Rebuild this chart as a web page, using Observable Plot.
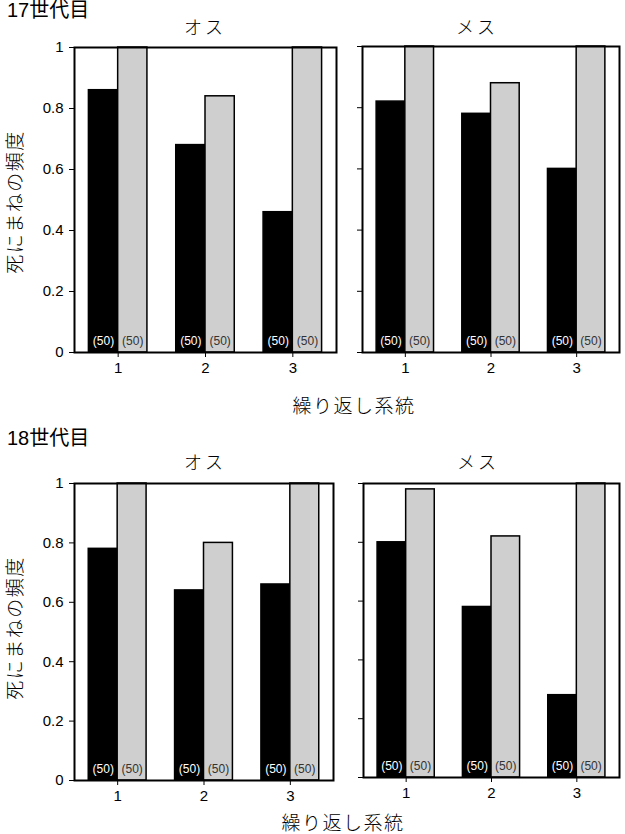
<!DOCTYPE html>
<html>
<head>
<meta charset="utf-8">
<script src="https://cdn.jsdelivr.net/npm/d3@7"></script>
<script src="https://cdn.jsdelivr.net/npm/@observablehq/plot@0.6"></script>
<style>
  html, body { margin: 0; padding: 0; background: #fff; }
  #root { position: relative; width: 625px; height: 834px; overflow: hidden; background: #fff; }
  .overlay { position: absolute; left: 0; top: 0; pointer-events: none; }
</style>
</head>
<body>
<div id="root"></div>
<script>
// ---- data ----
const replicates = [1, 2, 3];
const sampleSizes = [50, 50, 50];
const yTicks = [0, 0.2, 0.4, 0.6, 0.8, 1];

const gen17MaleBlack   = [0.86, 0.68, 0.46];
const gen17MaleGray    = [1.00, 0.84, 1.00];
const gen17FemaleBlack = [0.82, 0.78, 0.60];
const gen17FemaleGray  = [1.00, 0.88, 1.00];
const gen18MaleBlack   = [0.78, 0.64, 0.66];
const gen18MaleGray    = [1.00, 0.80, 1.00];
const gen18FemaleBlack = [0.80, 0.58, 0.28];
const gen18FemaleGray  = [0.98, 0.82, 1.00];

const genTitles = ["17世代目", "18世代目"];
const sexTitles = ["オス", "メス"];
const yLabel = "死にまねの頻度";
const xLabel = "繰り返し系統";

// ---- style ----
const GRAY = "#cfcfcf";
const HALF = 0.335; // bar width as fraction of a replicate step
const root = document.getElementById("root");

function rows(values) {
  return replicates.map((r, i) => ({rep: r, value: values[i], n: sampleSizes[i]}));
}

function panel({black, gray, L, R, T, B, showY}) {
  const ml = showY ? 74 : 20, mr = 6, mt = 10, mb = 34;
  const blackRows = rows(black), grayRows = rows(gray);
  const chart = Plot.plot({
    width: (R - L) + ml + mr,
    height: (B - T) + mt + mb,
    marginLeft: ml, marginRight: mr, marginTop: mt, marginBottom: mb,
    style: {fontFamily: "'Liberation Sans', Arial, sans-serif", fontSize: "15px", color: "black", background: "white"},
    x: {domain: [0.5, 3.5], ticks: replicates, tickFormat: d => String(d), tickSize: 5, tickPadding: 5, label: null},
    y: {domain: [0, 1], ticks: yTicks, tickFormat: showY ? (d => String(d)) : () => "", tickSize: 5, tickPadding: 6, label: null},
    marks: [
      Plot.rectY(blackRows, {x1: d => d.rep - HALF, x2: "rep", y1: 0, y2: "value", fill: "black", stroke: "black", strokeWidth: 1.5}),
      Plot.rectY(grayRows, {x1: "rep", x2: d => d.rep + HALF, y1: 0, y2: "value", fill: GRAY, stroke: "black", strokeWidth: 1.5}),
      Plot.text(blackRows, {x: d => d.rep - HALF / 2, y: 0, text: d => `(${d.n})`, dy: -11, fill: "white", fontSize: 12}),
      Plot.text(grayRows, {x: d => d.rep + HALF / 2, y: 0, text: d => `(${d.n})`, dy: -11, fill: "#333", fontSize: 12}),
      Plot.frame({stroke: "black", strokeWidth: 2})
    ]
  });
  chart.style.position = "absolute";
  chart.style.left = (L - ml) + "px";
  chart.style.top = (T - mt) + "px";
  root.appendChild(chart);
}

panel({black: gen17MaleBlack,   gray: gen17MaleGray,   L: 74,  R: 336, T: 47,  B: 352, showY: true});
panel({black: gen17FemaleBlack, gray: gen17FemaleGray, L: 362, R: 619, T: 46,  B: 352, showY: false});
panel({black: gen18MaleBlack,   gray: gen18MaleGray,   L: 74,  R: 333, T: 483, B: 780, showY: true});
panel({black: gen18FemaleBlack, gray: gen18FemaleGray, L: 363, R: 619, T: 483, B: 777, showY: false});

// ---- text overlay ----
const NS = "http://www.w3.org/2000/svg";
const ov = document.createElementNS(NS, "svg");
ov.setAttribute("class", "overlay");
ov.setAttribute("width", 625);
ov.setAttribute("height", 834);
function txt(s, x, y, opts = {}) {
  const t = document.createElementNS(NS, "text");
  t.textContent = s;
  t.setAttribute("x", x);
  t.setAttribute("y", y);
  t.setAttribute("font-size", opts.size || 20);
  t.setAttribute("font-family", opts.family || "'Liberation Sans', 'Noto Sans CJK JP', sans-serif");
  t.setAttribute("text-anchor", opts.anchor || "start");
  if (opts.baseline) t.setAttribute("dominant-baseline", opts.baseline);
  if (opts.rotate) t.setAttribute("transform", `rotate(${opts.rotate} ${x} ${y})`);
  if (opts.spacing) t.setAttribute("letter-spacing", opts.spacing);
  if (opts.weight) t.setAttribute("font-weight", opts.weight);
  t.setAttribute("fill", "black");
  ov.appendChild(t);
}
const JP = "'Noto Sans CJK JP', sans-serif";
txt(genTitles[0], 7, 17, {size: 20});
txt(genTitles[1], 7, 445, {size: 20});
txt(sexTitles[0], 205, 34, {size: 18, anchor: "middle", family: JP, spacing: 3, weight: 300});
txt(sexTitles[1], 477, 34, {size: 18, anchor: "middle", family: JP, spacing: 3, weight: 300});
txt(sexTitles[0], 205, 469, {size: 18, anchor: "middle", family: JP, spacing: 3, weight: 300});
txt(sexTitles[1], 478, 469, {size: 18, anchor: "middle", family: JP, spacing: 3, weight: 300});
txt(yLabel, 13, 202, {size: 19, anchor: "middle", baseline: "central", rotate: -90, family: JP, spacing: 1.5, weight: 300});
txt(yLabel, 13, 628, {size: 19, anchor: "middle", baseline: "central", rotate: -90, family: JP, spacing: 1.5, weight: 300});
txt(xLabel, 354, 404, {size: 19, anchor: "middle", baseline: "central", family: JP, spacing: 1.5, weight: 300});
txt(xLabel, 343, 821, {size: 19, anchor: "middle", baseline: "central", family: JP, spacing: 1.5, weight: 300});
root.appendChild(ov);
</script>
</body>
</html>
